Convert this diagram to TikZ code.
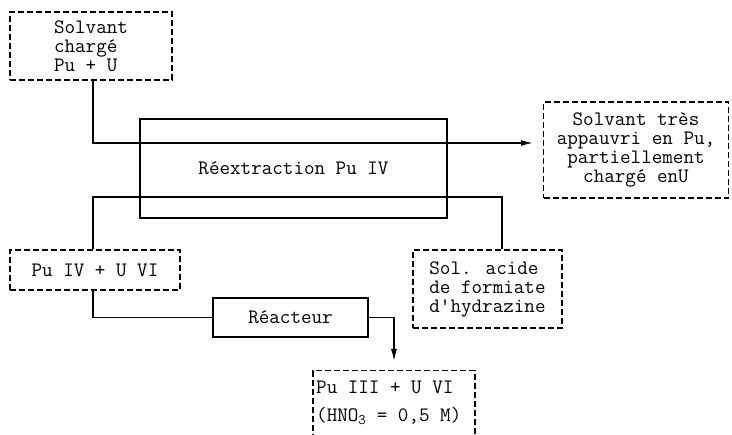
\documentclass[tikz,border=0pt]{standalone}
\usepackage{fontspec}
\usetikzlibrary{arrows.meta}
\begin{document}
\begin{tikzpicture}[x=1pt,y=-1pt,
  txt/.style={font=\ttfamily\fontsize{20.5}{19}\selectfont, inner sep=0pt},
  dbox/.style={draw, dashed, dash pattern=on 6pt off 3pt, line width=1.3pt, txt},
  sbox/.style={draw, line width=1.8pt, txt},
  conn/.style={line width=1.4pt},
  arr/.style={conn, -{Latex[length=12pt,width=6pt]}}]
\clip (0,0) rectangle (732,435);
\fill[white] (0,0) rectangle (732,435);
% boxes
\node[dbox, minimum width=162pt, minimum height=68pt, align=left] (solv) at (91,46) {Solvant\\chargé\\Pu + U};
\node[sbox, minimum width=307pt, minimum height=99pt] (reex) at (293.5,168.5) {Réextraction Pu IV};
\node[dbox, minimum width=185pt, minimum height=96pt, align=center] (out) at (636,150) {Solvant très\\appauvri en Pu,\\partiellement\\chargé enU};
\node[dbox, minimum width=170pt, minimum height=40pt] (puiv) at (95,270) {Pu IV + U VI};
\node[dbox, minimum width=149pt, minimum height=78pt, align=left] (sol) at (487.5,289) {Sol. acide\\de formiate\\d'hydrazine};
\node[sbox, minimum width=155pt, minimum height=39pt] (reac) at (290.5,317.5) {Réacteur};
\node[dbox, minimum width=162pt, minimum height=90pt, anchor=north] (puiii) at (394,370) {};
\node[txt, anchor=west] (t1) at (316,387) {Pu III + U VI};
\node[txt, anchor=west] (t2) at (316,416) {(HNO\textsubscript{3} = 0,5 M)};
% connectors
\coordinate (inx) at (93,143);
\coordinate (outtip) at (533,143);
\draw[arr] (solv.south -| inx) |- (outtip);
\coordinate (aqL) at (93,197);
\coordinate (aqR) at (502,197);
\draw[conn] (puiv.north -| aqL) -- (aqL) -- (aqR) -- (sol.north -| aqR);
\draw[conn] (puiv.south -| aqL) |- (reac.west);
\coordinate (rtip) at (394,361);
\draw[arr] (reac.east) -| (rtip);
\end{tikzpicture}
\end{document}
